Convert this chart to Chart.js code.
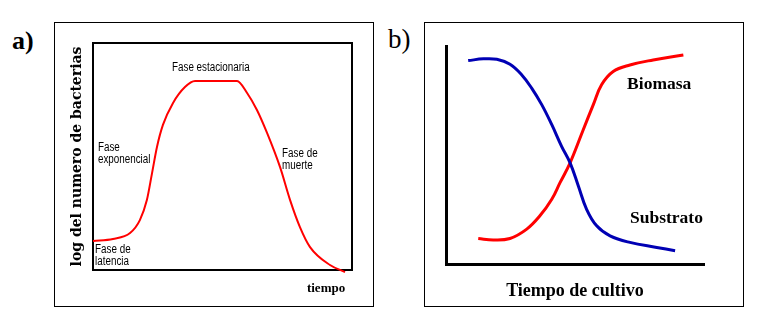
<!DOCTYPE html>
<html>
<head>
<meta charset="utf-8">
<script src="https://cdn.jsdelivr.net/npm/chart.js@4"></script>
<style>
  body { margin: 0; background: #fff; width: 776px; height: 335px; position: relative; overflow: hidden; }
  .panel { position: absolute; top: 22px; width: 318px; height: 283px; border: 1px solid #000; }
  .tag { position: absolute; font-family: 'Liberation Serif', serif; font-size: 26px; line-height: 26px; color: #000; }
</style>
</head>
<body>
<div class="tag" style="left:12px;top:28px;font-weight:bold">a)</div>
<div class="panel" style="left:54px"><canvas id="chartA"></canvas></div>
<div class="tag" style="left:388px;top:26px;font-size:27px">b)</div>
<div class="panel" style="left:424px"><canvas id="chartB"></canvas></div>

<script>
// a) curva de crecimiento bacteriano (escala 0-100 en ambos ejes)
const tiempoA = [0, 7.7, 14.3, 18.1, 20.8, 22.8, 24.7, 27, 30.9, 35.5, 39.4, 55.6, 59.5, 63.3, 67.2, 72.2, 76.1, 79.9, 83.8, 91.5, 97.3];
const logBacterias = [12.8, 13.7, 16.3, 22, 30.8, 42.7, 54.2, 63.9, 73.6, 80.6, 83.3, 83.3, 78, 70.5, 60.4, 45.4, 30.8, 18.9, 10.1, 2.2, -0.9];

// b) substrato y biomasa
const tiempoSub = [8.6, 14.5, 19.7, 24.8, 29.3, 33.2, 37.1, 41, 44.8, 48.1, 51.3, 54.5, 58.4, 63.6, 71.3, 81.7, 88.8];
const substrato = [93.3, 94.1, 93.9, 91.6, 86.8, 80.7, 73.1, 63.9, 54, 46.4, 35.8, 25.1, 17.5, 12.9, 9.9, 7.6, 6.1];
const tiempoBio = [12.5, 18.3, 24.8, 31.3, 36.4, 41, 44.2, 48.1, 53.2, 57.1, 60.3, 64.8, 71.3, 80.3, 92];
const biomasa = [11.7, 11, 11.7, 16, 22.1, 29.7, 37.3, 46.4, 61.6, 73.1, 82.2, 88.3, 91.3, 93.6, 95.9];

const toPoints = (xs, ys) => xs.map((x, i) => ({x: x, y: ys[i]}));

// texto sobre el grafico, anclado a valores de los ejes
const notesPlugin = {
  id: 'notes',
  afterDatasetsDraw(chart, args, opts) {
    const {ctx, scales: {x, y}} = chart;
    opts.items.forEach(n => {
      const stretch = n.stretch || opts.stretch || 1;
      const px = x.getPixelForValue(n.x);
      const py = y.getPixelForValue(n.y);
      ctx.save();
      ctx.fillStyle = '#000';
      ctx.font = n.font || opts.font;
      ctx.textBaseline = 'middle';
      ctx.translate(px, py);
      ctx.scale(stretch, 1);
      n.lines.forEach((line, i) => ctx.fillText(line, 0, i * opts.lineHeight));
      ctx.restore();
    });
  }
};

// marco completo del area de a)
const framePlugin = {
  id: 'frame',
  beforeDatasetsDraw(chart) {
    const {ctx, chartArea: a} = chart;
    ctx.save();
    ctx.strokeStyle = '#000';
    ctx.lineWidth = 2;
    ctx.strokeRect(a.left, a.top, a.right - a.left, a.bottom - a.top);
    ctx.restore();
  }
};

const chartA = new Chart(document.getElementById('chartA'), {
  type: 'line',
  data: {
    datasets: [{
      data: toPoints(tiempoA, logBacterias),
      borderColor: '#ff0000',
      borderWidth: 2,
      pointRadius: 0,
      cubicInterpolationMode: 'monotone',
      clip: false
    }]
  },
  options: {
    responsive: true,
    maintainAspectRatio: false,
    animation: false,
    events: [],
    layout: { autoPadding: false, padding: { left: 9.6, top: 20, right: 21, bottom: 36 } },
    plugins: {
      legend: { display: false },
      tooltip: { enabled: false },
      notes: {
        font: "12px 'Liberation Sans', Arial, sans-serif",
        stretch: 0.82,
        lineHeight: 12,
        items: [
          { lines: ['Fase estacionaria'], x: 30.5, y: 89 },
          { lines: ['Fase', 'exponencial'], x: 1.9, y: 53.7 },
          { lines: ['Fase de', 'muerte'], x: 73, y: 51.1 },
          { lines: ['Fase de', 'latencia'], x: 0.8, y: 8.8 },
          { lines: ['tiempo'], x: 82.6, y: -8.4, stretch: 1, font: "bold 13px 'Liberation Serif', serif" }
        ]
      }
    },
    scales: {
      x: {
        type: 'linear', min: 0, max: 100,
        grid: { display: false, drawTicks: false },
        border: { display: false },
        ticks: { display: false }
      },
      y: {
        min: 0, max: 100,
        grid: { display: false, drawTicks: false },
        border: { display: false },
        ticks: { display: false },
        title: {
          display: true, text: 'log del numero de bacterias', color: '#000',
          font: { family: "'DejaVu Serif', serif", size: 14, weight: 'bold' },
          padding: { top: 4, bottom: 7.6 }
        }
      }
    }
  },
  plugins: [framePlugin, notesPlugin]
});

const chartB = new Chart(document.getElementById('chartB'), {
  type: 'line',
  data: {
    datasets: [
      {
        label: 'Substrato',
        data: toPoints(tiempoSub, substrato),
        borderColor: '#0000b4',
        borderWidth: 3,
        pointRadius: 0,
        tension: 0.4,
        clip: false
      },
      {
        label: 'Biomasa',
        data: toPoints(tiempoBio, biomasa),
        borderColor: '#ff0000',
        borderWidth: 3,
        pointRadius: 0,
        tension: 0.4,
        clip: false
      }
    ]
  },
  options: {
    responsive: true,
    maintainAspectRatio: false,
    animation: false,
    events: [],
    layout: { autoPadding: false, padding: { left: 21, top: 23, right: 39, bottom: 0.2 } },
    plugins: {
      legend: { display: false },
      tooltip: { enabled: false },
      notes: {
        font: "bold 17.5px 'Liberation Serif', serif",
        lineHeight: 18,
        items: [
          { lines: ['Biomasa'], x: 70.2, y: 82.5 },
          { lines: ['Substrato'], x: 71.3, y: 21 }
        ]
      }
    },
    scales: {
      x: {
        type: 'linear', min: 0, max: 100,
        grid: { display: false, drawTicks: false },
        border: { display: true, color: '#000', width: 3 },
        ticks: { display: false },
        title: {
          display: true, text: 'Tiempo de cultivo', color: '#000',
          font: { family: "'Liberation Serif', serif", size: 18, weight: 'bold' },
          padding: { top: 16.2, bottom: 4 }
        }
      },
      y: {
        min: 0, max: 100,
        grid: { display: false, drawTicks: false },
        border: { display: true, color: '#000', width: 3 },
        ticks: { display: false }
      }
    }
  },
  plugins: [notesPlugin]
});
</script>
</body>
</html>
